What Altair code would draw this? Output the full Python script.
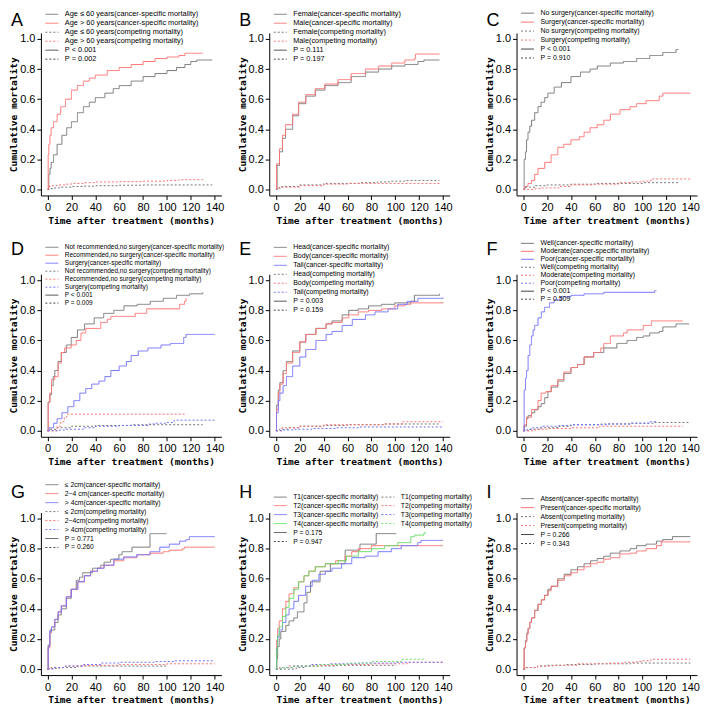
import altair as alt
import pandas as pd

# ---------------- data ----------------
# Panel A: age
a_le60_cs_t = [0, 1, 2, 3, 5, 8, 12, 16, 20, 25, 30, 35, 40, 48, 55, 60, 70, 80, 90, 100, 108, 115, 120, 125, 138]
a_le60_cs_v = [0, 0.10, 0.14, 0.18, 0.23, 0.30, 0.36, 0.41, 0.45, 0.51, 0.55, 0.58, 0.61, 0.64, 0.67, 0.69, 0.72, 0.75, 0.77, 0.79, 0.81, 0.83, 0.85, 0.86, 0.86]
a_gt60_cs_t = [0, 0.5, 1, 2, 3, 5, 8, 11, 15, 20, 25, 30, 35, 40, 50, 60, 70, 80, 90, 100, 110, 115, 130]
a_gt60_cs_v = [0, 0.23, 0.30, 0.36, 0.41, 0.45, 0.50, 0.55, 0.60, 0.66, 0.69, 0.72, 0.74, 0.76, 0.79, 0.81, 0.83, 0.85, 0.87, 0.88, 0.89, 0.905, 0.905]
a_le60_cm_t = [0, 1, 5, 10, 20, 30, 40, 60, 80, 138]
a_le60_cm_v = [0, 0.005, 0.01, 0.015, 0.02, 0.022, 0.025, 0.028, 0.03, 0.03]
a_gt60_cm_t = [0, 1, 3, 8, 15, 20, 30, 40, 60, 80, 100, 110, 130]
a_gt60_cm_v = [0, 0.02, 0.025, 0.03, 0.035, 0.04, 0.045, 0.05, 0.052, 0.055, 0.06, 0.065, 0.07]

# Panel B: sex
b_fem_cs_t = [0, 1, 3, 5.5, 8, 14, 19, 25, 33, 41, 52, 63, 75, 86, 97, 108, 119, 124, 137]
b_fem_cs_v = [0, 0.16, 0.25, 0.34, 0.40, 0.49, 0.57, 0.62, 0.66, 0.69, 0.71, 0.75, 0.78, 0.80, 0.82, 0.83, 0.85, 0.86, 0.86]
b_mal_cs_t = [0, 0.5, 3, 5.5, 8, 14, 19, 25, 33, 41, 52, 63, 75, 86, 97, 108, 116, 117, 137]
b_mal_cs_v = [0, 0.17, 0.27, 0.36, 0.43, 0.50, 0.58, 0.63, 0.67, 0.70, 0.73, 0.77, 0.80, 0.82, 0.84, 0.86, 0.87, 0.90, 0.90]
b_fem_cm_t = [0, 1, 5, 20, 40, 70, 85, 95, 108, 137]
b_fem_cm_v = [0, 0.01, 0.02, 0.03, 0.04, 0.045, 0.05, 0.055, 0.06, 0.06]
b_mal_cm_t = [0, 1, 3, 20, 40, 60, 138]
b_mal_cm_v = [0, 0.01, 0.015, 0.025, 0.035, 0.04, 0.04]

# Panel C: surgery
c_nos_cs_t = [0, 0.8, 1.9, 2.8, 4, 5.5, 7, 9.6, 12.4, 15, 18, 20.6, 26, 32, 40, 48, 56, 62, 73, 84, 95, 106, 117, 128, 130]
c_nos_cs_v = [0, 0.20, 0.25, 0.33, 0.38, 0.42, 0.46, 0.51, 0.55, 0.58, 0.61, 0.64, 0.68, 0.71, 0.75, 0.78, 0.80, 0.82, 0.84, 0.85, 0.87, 0.89, 0.91, 0.93, 0.93]
c_sur_cs_t = [0, 1.4, 4, 7, 9.6, 12.4, 18, 23.4, 29, 34, 40, 47, 51, 56, 62, 67.5, 73, 81, 89.5, 95, 103, 114, 117, 140]
c_sur_cs_v = [0, 0.02, 0.04, 0.06, 0.10, 0.14, 0.18, 0.23, 0.28, 0.30, 0.33, 0.35, 0.38, 0.41, 0.43, 0.46, 0.50, 0.53, 0.55, 0.57, 0.59, 0.62, 0.64, 0.64]
c_nos_cm_t = [0, 1, 10, 20, 40, 60, 100, 130]
c_nos_cm_v = [0, 0.015, 0.025, 0.03, 0.035, 0.04, 0.045, 0.045]
c_sur_cm_t = [0, 10, 15, 30, 40, 60, 80, 90, 100, 107, 140]
c_sur_cm_v = [0, 0.005, 0.01, 0.02, 0.03, 0.035, 0.045, 0.05, 0.055, 0.07, 0.07]

# Panel D: recommendation
d_notrec_cs_t = [0, 0.5, 1.9, 3.3, 4.7, 6, 8.8, 11.5, 15.7, 19.8, 25, 31, 39, 47, 55.5, 64, 75, 86, 97, 108, 119, 130]
d_notrec_cs_v = [0, 0.19, 0.24, 0.30, 0.36, 0.40, 0.46, 0.52, 0.57, 0.62, 0.67, 0.71, 0.75, 0.78, 0.80, 0.83, 0.84, 0.86, 0.88, 0.90, 0.91, 0.92]
d_rec_cs_t = [0, 0.5, 1.9, 3.3, 6, 8.8, 11.5, 14.3, 19.8, 24, 28, 32, 44.5, 50, 53, 73.4, 83, 110.6, 114.7, 116]
d_rec_cs_v = [0, 0.19, 0.25, 0.34, 0.36, 0.45, 0.52, 0.55, 0.57, 0.60, 0.65, 0.68, 0.72, 0.74, 0.76, 0.78, 0.81, 0.84, 0.86, 0.88]
d_sur_cs_t = [0, 1.4, 5, 8, 12, 17, 22, 27, 32, 37, 43, 48, 53, 60, 66, 70, 76, 84, 95, 103, 114, 116, 140]
d_sur_cs_v = [0, 0.02, 0.05, 0.08, 0.12, 0.16, 0.20, 0.25, 0.28, 0.31, 0.33, 0.36, 0.40, 0.43, 0.46, 0.50, 0.53, 0.55, 0.57, 0.58, 0.62, 0.64, 0.64]
d_notrec_cm_t = [0, 1, 8, 20, 40, 70, 130]
d_notrec_cm_v = [0, 0.01, 0.02, 0.03, 0.035, 0.04, 0.04]
d_rec_cm_t = [0, 8, 11, 14, 16, 116]
d_rec_cm_v = [0, 0.03, 0.06, 0.09, 0.11, 0.11]
d_sur_cm_t = [0, 10, 15, 30, 40, 60, 85, 90, 100, 106, 140]
d_sur_cm_v = [0, 0.005, 0.01, 0.02, 0.03, 0.035, 0.045, 0.05, 0.055, 0.07, 0.07]

# Panel E: location
e_head_cs_t = [0, 0.5, 2, 3.3, 6, 8.8, 14, 20, 25, 33.5, 42, 47, 55.5, 61, 69, 77.6, 88.6, 99.6, 113, 116, 137]
e_head_cs_v = [0, 0.17, 0.27, 0.32, 0.40, 0.46, 0.53, 0.59, 0.64, 0.68, 0.71, 0.73, 0.77, 0.80, 0.81, 0.83, 0.84, 0.85, 0.86, 0.90, 0.91]
e_body_cs_t = [0, 0.5, 2, 3.3, 6, 8.8, 14, 20, 25, 33.5, 42, 47, 55.5, 61, 69, 77.6, 88.6, 99.6, 108, 113, 140]
e_body_cs_v = [0, 0.14, 0.25, 0.31, 0.38, 0.45, 0.52, 0.59, 0.64, 0.68, 0.71, 0.72, 0.75, 0.77, 0.79, 0.80, 0.81, 0.83, 0.84, 0.85, 0.855]
e_tail_cs_t = [0, 0.5, 2, 3.3, 6, 8.8, 14, 20, 25, 33.5, 42, 47, 55.5, 64, 75, 83, 94, 102, 110, 119, 140]
e_tail_cs_v = [0, 0.12, 0.20, 0.25, 0.30, 0.36, 0.43, 0.49, 0.54, 0.60, 0.64, 0.66, 0.70, 0.74, 0.77, 0.79, 0.81, 0.84, 0.86, 0.88, 0.885]
e_head_cm_t = [0, 3, 10, 20, 40, 60, 90, 138]
e_head_cm_v = [0, 0.01, 0.02, 0.03, 0.035, 0.04, 0.045, 0.045]
e_body_cm_t = [0, 5, 20, 40, 90, 106, 140]
e_body_cm_v = [0, 0.02, 0.03, 0.04, 0.045, 0.06, 0.06]
e_tail_cm_t = [0, 5, 15, 30, 50, 70, 140]
e_tail_cm_v = [0, 0.005, 0.01, 0.015, 0.02, 0.025, 0.025]

# Panel F: grade
f_well_cs_t = [0, 0.8, 2.8, 4, 7, 9.6, 12.4, 15, 18, 20.7, 23.4, 29, 34, 40, 45.5, 51, 59, 67.5, 78.5, 87, 95, 100.6, 106, 114, 117, 128, 139]
f_well_cs_v = [0, 0.03, 0.08, 0.10, 0.12, 0.14, 0.16, 0.18, 0.22, 0.26, 0.29, 0.33, 0.38, 0.42, 0.44, 0.49, 0.52, 0.55, 0.58, 0.60, 0.62, 0.63, 0.65, 0.66, 0.69, 0.71, 0.71]
f_mod_cs_t = [0, 0.8, 2.8, 7, 12.4, 15, 19, 23.4, 29, 34, 40, 45.5, 51, 59, 65, 67.5, 73, 84, 87, 100.6, 107.4, 133.6]
f_mod_cs_v = [0, 0.04, 0.09, 0.14, 0.20, 0.25, 0.26, 0.30, 0.34, 0.39, 0.42, 0.44, 0.49, 0.52, 0.55, 0.58, 0.63, 0.65, 0.67, 0.70, 0.73, 0.73]
f_poor_cs_t = [0, 0.8, 1.9, 2.8, 4.1, 5.5, 6.9, 8.3, 9.6, 12.4, 15.2, 17.9, 22, 26, 31.7, 40, 51, 67.5, 110, 111.6]
f_poor_cs_v = [0, 0.27, 0.35, 0.40, 0.50, 0.57, 0.63, 0.67, 0.70, 0.75, 0.79, 0.82, 0.85, 0.87, 0.89, 0.90, 0.91, 0.92, 0.93, 0.93]
f_well_cm_t = [0, 5, 15, 30, 40, 65, 90, 110, 139]
f_well_cm_v = [0, 0.01, 0.02, 0.03, 0.04, 0.045, 0.05, 0.055, 0.055]
f_mod_cm_t = [0, 10, 20, 40, 64, 134]
f_mod_cm_v = [0, 0.01, 0.015, 0.02, 0.03, 0.03]
f_poor_cm_t = [0, 3, 8, 15, 30, 40, 70, 90, 106, 112]
f_poor_cm_v = [0, 0.01, 0.02, 0.03, 0.035, 0.04, 0.045, 0.05, 0.06, 0.06]

# Panel G: size
g_s2_cs_t = [0, 0.5, 1.9, 6, 8.8, 11.5, 15.7, 19.8, 24, 26.7, 29.4, 37.7, 44.5, 47.3, 52.8, 59.7, 62.4, 70.7, 85.8, 99.6]
g_s2_cs_v = [0, 0.16, 0.26, 0.31, 0.36, 0.40, 0.47, 0.53, 0.59, 0.61, 0.64, 0.67, 0.69, 0.71, 0.73, 0.76, 0.78, 0.81, 0.90, 0.90]
g_s24_cs_t = [0, 0.5, 1.9, 3.3, 6, 8.8, 11.5, 15.7, 19.8, 25.3, 30.8, 36, 41.8, 47.3, 55.5, 63.8, 74.8, 85.8, 96.8, 102, 113, 114.7, 140]
g_s24_cs_v = [0, 0.14, 0.24, 0.28, 0.33, 0.38, 0.42, 0.48, 0.53, 0.58, 0.62, 0.65, 0.67, 0.69, 0.72, 0.74, 0.76, 0.77, 0.78, 0.79, 0.80, 0.81, 0.81]
g_s4_cs_t = [0, 0.5, 1.9, 3.3, 6, 8.8, 11.5, 15.7, 19.8, 25.3, 30.8, 36, 41.8, 47.3, 55.5, 63.8, 74.8, 85.8, 94, 102, 110.6, 116, 118.8, 140]
g_s4_cs_v = [0, 0.15, 0.25, 0.28, 0.33, 0.38, 0.42, 0.48, 0.53, 0.58, 0.62, 0.65, 0.67, 0.69, 0.73, 0.745, 0.76, 0.78, 0.81, 0.83, 0.85, 0.86, 0.88, 0.88]
g_s2_cm_t = [0, 1, 10, 25, 100]
g_s2_cm_v = [0, 0.005, 0.01, 0.02, 0.02]
g_s24_cm_t = [0, 3, 15, 30, 60, 100, 140]
g_s24_cm_v = [0, 0.01, 0.02, 0.025, 0.03, 0.035, 0.035]
g_s4_cm_t = [0, 5, 15, 30, 45, 60, 90, 106, 140]
g_s4_cm_v = [0, 0.01, 0.02, 0.03, 0.04, 0.045, 0.05, 0.055, 0.055]

# Panel H: T stage
h_t1_cs_t = [0, 0.8, 1.4, 2.8, 4.1, 8.3, 11, 15, 18, 23.5, 26, 29, 37, 45.6, 58, 70.4, 84, 100.8]
h_t1_cs_v = [0, 0.07, 0.15, 0.20, 0.25, 0.29, 0.32, 0.34, 0.38, 0.44, 0.51, 0.58, 0.65, 0.70, 0.79, 0.83, 0.90, 0.90]
h_t2_cs_t = [0, 0.5, 1.4, 2.8, 5.5, 8.3, 11, 15, 19, 23.5, 27.6, 33, 41.4, 50, 58, 63.5, 69, 80, 140]
h_t2_cs_v = [0, 0.19, 0.27, 0.32, 0.40, 0.45, 0.50, 0.54, 0.58, 0.62, 0.65, 0.68, 0.70, 0.72, 0.75, 0.78, 0.80, 0.82, 0.82]
h_t3_cs_t = [0, 0.5, 1.4, 2.8, 5.5, 8.3, 11, 15, 19, 24.9, 30.4, 36, 41.4, 47, 55, 63.5, 74.6, 85.6, 96.7, 105, 118.8, 121.5, 140]
h_t3_cs_v = [0, 0.14, 0.21, 0.26, 0.31, 0.36, 0.40, 0.45, 0.49, 0.55, 0.59, 0.63, 0.65, 0.67, 0.70, 0.74, 0.75, 0.78, 0.80, 0.82, 0.84, 0.855, 0.855]
h_t4_cs_t = [0, 0.5, 1.4, 2.8, 5.5, 8.3, 11, 15, 19, 23.5, 27.6, 33, 41.4, 52, 59, 69, 80, 91, 102, 113, 116, 124, 125.7]
h_t4_cs_v = [0, 0.13, 0.22, 0.28, 0.35, 0.41, 0.47, 0.53, 0.58, 0.62, 0.65, 0.68, 0.70, 0.72, 0.75, 0.78, 0.80, 0.82, 0.84, 0.88, 0.89, 0.905, 0.905]
h_t1_cm_t = [0, 17, 25, 50, 100.8]
h_t1_cm_v = [0, 0.01, 0.02, 0.025, 0.025]
h_t2_cm_t = [0, 3, 10, 30, 50, 80, 110, 140]
h_t2_cm_v = [0, 0.01, 0.02, 0.025, 0.03, 0.035, 0.045, 0.045]
h_t3_cm_t = [0, 5, 15, 30, 45, 70, 100, 140]
h_t3_cm_v = [0, 0.01, 0.02, 0.03, 0.035, 0.04, 0.045, 0.045]
h_t4_cm_t = [0, 5, 15, 35, 60, 80, 105, 125.7]
h_t4_cm_v = [0, 0.01, 0.02, 0.03, 0.04, 0.05, 0.065, 0.065]

# Panel I: metastasis
i_abs_cs_t = [0, 0.8, 1.9, 3, 4.1, 5.5, 6.9, 9.6, 12.4, 15.2, 17.9, 20.7, 23.4, 28.9, 34.4, 40, 45.5, 51, 56.5, 62, 67.5, 73, 81, 89.5, 95, 103, 111.6, 117, 125, 140]
i_abs_cs_v = [0, 0.14, 0.19, 0.24, 0.27, 0.31, 0.34, 0.39, 0.43, 0.46, 0.49, 0.53, 0.55, 0.60, 0.63, 0.66, 0.68, 0.70, 0.72, 0.735, 0.75, 0.77, 0.785, 0.80, 0.82, 0.83, 0.85, 0.86, 0.88, 0.88]
i_pre_cs_t = [0, 0.8, 1.9, 3, 4.1, 5.5, 6.9, 9.6, 12.4, 15.2, 17.9, 20.7, 23.4, 28.9, 34.4, 40, 45.5, 51, 56.5, 62, 67.5, 73, 81, 89.5, 95, 103, 111.6, 115.7, 140]
i_pre_cs_v = [0, 0.14, 0.18, 0.23, 0.27, 0.31, 0.34, 0.39, 0.43, 0.46, 0.49, 0.52, 0.55, 0.59, 0.62, 0.64, 0.66, 0.68, 0.70, 0.71, 0.73, 0.74, 0.765, 0.77, 0.785, 0.80, 0.82, 0.845, 0.845]
i_abs_cm_t = [0, 2, 12, 20, 35, 60, 90, 140]
i_abs_cm_v = [0, 0.01, 0.02, 0.025, 0.03, 0.035, 0.04, 0.04]
i_pre_cm_t = [0, 2, 12, 25, 45, 70, 85, 95, 100, 107, 140]
i_pre_cm_v = [0, 0.01, 0.02, 0.025, 0.035, 0.04, 0.045, 0.05, 0.055, 0.065, 0.065]

x_ticks = [0, 20, 40, 60, 80, 100, 120, 140]
y_ticks = [0.0, 0.2, 0.4, 0.6, 0.8, 1.0]

# ---------------- styling ----------------
GRAY, RED, BLUE, GREEN, PCOL = "#777777", "#ff7272", "#7272ff", "#66dd66", "#444444"
SOLID, DASH = [1, 0], [2, 2]
CS, CM = "(cancer-specific mortality)", "(competing mortality)"
W, H = 181, 163


def make_panel(letter, series, plabels, legend_y, letter_y, font_size, row_h,
               order=None, columns=1, col_pad=3):
    rows, styles = [], {}
    for label, color, dash, ts, vs in series:
        styles[label] = (color, dash)
        for t, v in zip(ts, vs):
            rows.append({"t": t, "v": v, "s": label})
    styles[plabels[0]] = (PCOL, SOLID)
    styles[plabels[1]] = (PCOL, DASH)
    styles[" "] = ("rgba(0,0,0,0)", SOLID)
    styles["  "] = ("rgba(0,0,0,0)", SOLID)
    if order is None:
        order = [s[0] for s in series] + list(plabels)
    colors = [styles[o][0] for o in order]
    dashes = [styles[o][1] for o in order]
    leg = alt.Legend(orient="none", legendX=4, legendY=legend_y, title=None,
                     labelFont="Liberation Sans", labelFontSize=font_size, labelColor="#000000",
                     symbolType="stroke", symbolSize=169, symbolStrokeWidth=1,
                     labelOffset=6, rowPadding=0, columnPadding=col_pad, padding=0, offset=0,
                     clipHeight=row_h, labelLimit=400, columns=columns, direction="vertical")
    lines = alt.Chart(pd.DataFrame(rows)).mark_line(
        interpolate="step-after", strokeWidth=1
    ).encode(
        x=alt.X("t:Q", scale=alt.Scale(domain=[-5.6, 145.6], nice=False, zero=False),
                axis=alt.Axis(values=x_ticks, title="Time after treatment (months)",
                              labelPadding=2, titlePadding=3, labelFlush=False)),
        y=alt.Y("v:Q", scale=alt.Scale(domain=[-0.04, 1.04], nice=False, zero=False),
                axis=alt.Axis(values=y_ticks, format=".1f", title="Cumulative mortality",
                              labelPadding=2, titlePadding=1, labelFlush=False)),
        color=alt.Color("s:N", scale=alt.Scale(domain=order, range=colors), legend=leg),
        strokeDash=alt.StrokeDash("s:N", scale=alt.Scale(domain=order, range=dashes), legend=leg),
    )
    tag = alt.Chart(alt.Data(values=[{"l": letter}])).mark_text(
        align="left", baseline="alphabetic", fontSize=18, font="Liberation Sans", color="#000000"
    ).encode(text="l:N", x=alt.value(-30), y=alt.value(letter_y))
    return alt.layer(lines, tag).properties(width=W, height=H)


pA = make_panel("A", [
    ("Age ≤ 60 years" + CS, GRAY, SOLID, a_le60_cs_t, a_le60_cs_v),
    ("Age > 60 years" + CS, RED, SOLID, a_gt60_cs_t, a_gt60_cs_v),
    ("Age ≤ 60 years" + CM, GRAY, DASH, a_le60_cm_t, a_le60_cm_v),
    ("Age > 60 years" + CM, RED, DASH, a_gt60_cm_t, a_gt60_cm_v),
], ["P < 0.001", "P = 0.002"], -23, -7, 7.4, 8.6)

pB = make_panel("B", [
    ("Female" + CS, GRAY, SOLID, b_fem_cs_t, b_fem_cs_v),
    ("Male" + CS, RED, SOLID, b_mal_cs_t, b_mal_cs_v),
    ("Female" + CM, GRAY, DASH, b_fem_cm_t, b_fem_cm_v),
    ("Male" + CM, RED, DASH, b_mal_cm_t, b_mal_cm_v),
], ["P = 0.111", "P = 0.197"], -23, -7, 7.35, 8.6)

pC = make_panel("C", [
    ("No surgery" + CS, GRAY, SOLID, c_nos_cs_t, c_nos_cs_v),
    ("Surgery" + CS, RED, SOLID, c_sur_cs_t, c_sur_cs_v),
    ("No surgery" + CM, GRAY, DASH, c_nos_cm_t, c_nos_cm_v),
    ("Surgery" + CM, RED, DASH, c_sur_cm_t, c_sur_cm_v),
], ["P < 0.001", "P = 0.910"], -24, -7, 7.0, 8.3)

pD = make_panel("D", [
    ("Not recommended,no surgery" + CS, GRAY, SOLID, d_notrec_cs_t, d_notrec_cs_v),
    ("Recommended,no surgery" + CS, RED, SOLID, d_rec_cs_t, d_rec_cs_v),
    ("Surgery" + CS, BLUE, SOLID, d_sur_cs_t, d_sur_cs_v),
    ("Not recommended,no surgery" + CM, GRAY, DASH, d_notrec_cm_t, d_notrec_cm_v),
    ("Recommended,no surgery" + CM, RED, DASH, d_rec_cm_t, d_rec_cm_v),
    ("Surgery" + CM, BLUE, DASH, d_sur_cm_t, d_sur_cm_v),
], ["P < 0.001", "P = 0.009"], -31, -19, 6.5, 7.9)

pE = make_panel("E", [
    ("Head" + CS, GRAY, SOLID, e_head_cs_t, e_head_cs_v),
    ("Body" + CS, RED, SOLID, e_body_cs_t, e_body_cs_v),
    ("Tail" + CS, BLUE, SOLID, e_tail_cs_t, e_tail_cs_v),
    ("Head" + CM, GRAY, DASH, e_head_cm_t, e_head_cm_v),
    ("Body" + CM, RED, DASH, e_body_cm_t, e_body_cm_v),
    ("Tail" + CM, BLUE, DASH, e_tail_cm_t, e_tail_cm_v),
], ["P = 0.003", "P = 0.159"], -31, -19, 7.0, 8.1)

pF = make_panel("F", [
    ("Well" + CS, GRAY, SOLID, f_well_cs_t, f_well_cs_v),
    ("Moderate" + CS, RED, SOLID, f_mod_cs_t, f_mod_cs_v),
    ("Poor" + CS, BLUE, SOLID, f_poor_cs_t, f_poor_cs_v),
    ("Well" + CM, GRAY, DASH, f_well_cm_t, f_well_cm_v),
    ("Moderate" + CM, RED, DASH, f_mod_cm_t, f_mod_cm_v),
    ("Poor" + CM, BLUE, DASH, f_poor_cm_t, f_poor_cm_v),
], ["P < 0.001", "P = 0.509"], -35, -19, 7.0, 8.0)

pG = make_panel("G", [
    ("≤ 2cm" + CS, GRAY, SOLID, g_s2_cs_t, g_s2_cs_v),
    ("2~4 cm" + CS, RED, SOLID, g_s24_cs_t, g_s24_cs_v),
    ("> 4cm" + CS, BLUE, SOLID, g_s4_cs_t, g_s4_cs_v),
    ("≤ 2cm" + CM, GRAY, DASH, g_s2_cm_t, g_s2_cm_v),
    ("2~4cm" + CM, RED, DASH, g_s24_cm_t, g_s24_cm_v),
    ("> 4cm" + CM, BLUE, DASH, g_s4_cm_t, g_s4_cm_v),
], ["P = 0.771", "P = 0.260"], -32, -15, 6.8, 8.1)

# two-column legend, filled column by column
h_order = ["T1" + CS, "T2" + CS, "T3" + CS, "T4" + CS, "P = 0.175", "P = 0.947",
           "T1" + CM, "T2" + CM, "T3" + CM, "T4" + CM, " ", "  "]
pH = make_panel("H", [
    ("T1" + CS, GRAY, SOLID, h_t1_cs_t, h_t1_cs_v),
    ("T2" + CS, RED, SOLID, h_t2_cs_t, h_t2_cs_v),
    ("T3" + CS, BLUE, SOLID, h_t3_cs_t, h_t3_cs_v),
    ("T4" + CS, GREEN, SOLID, h_t4_cs_t, h_t4_cs_v),
    ("T1" + CM, GRAY, DASH, h_t1_cm_t, h_t1_cm_v),
    ("T2" + CM, RED, DASH, h_t2_cm_t, h_t2_cm_v),
    ("T3" + CM, BLUE, DASH, h_t3_cm_t, h_t3_cm_v),
    ("T4" + CM, GREEN, DASH, h_t4_cm_t, h_t4_cm_v),
], ["P = 0.175", "P = 0.947"], -20, -15, 6.8, 8.1, order=h_order, columns=2, col_pad=2)

pI = make_panel("I", [
    ("Absent" + CS, GRAY, SOLID, i_abs_cs_t, i_abs_cs_v),
    ("Present" + CS, RED, SOLID, i_pre_cs_t, i_pre_cs_v),
    ("Absent" + CM, GRAY, DASH, i_abs_cm_t, i_abs_cm_v),
    ("Present" + CM, RED, DASH, i_pre_cm_t, i_pre_cm_v),
], ["P = 0.266", "P = 0.343"], -18, -15, 6.8, 8.1)

chart = alt.concat(
    pA, pB, pC, pD, pE, pF, pG, pH, pI,
    columns=3, spacing={"row": 14, "column": 11}, align="each", bounds="full"
).resolve_scale(
    x="independent", y="independent", color="independent", strokeDash="independent"
).resolve_legend(
    color="independent", strokeDash="independent"
).properties(
    padding=0, background="white"
).configure_view(
    stroke=None
).configure_axis(
    grid=False, domainColor="#000000", tickColor="#000000", labelColor="#000000",
    titleColor="#000000", tickSize=4, domainWidth=1, tickWidth=1,
    labelFont="Liberation Sans", labelFontSize=11,
    titleFont="DejaVu Sans Mono", titleFontSize=9.6, titleFontWeight="bold"
)

chart.save("out.html", embed_options={"renderer": "svg", "actions": False})
